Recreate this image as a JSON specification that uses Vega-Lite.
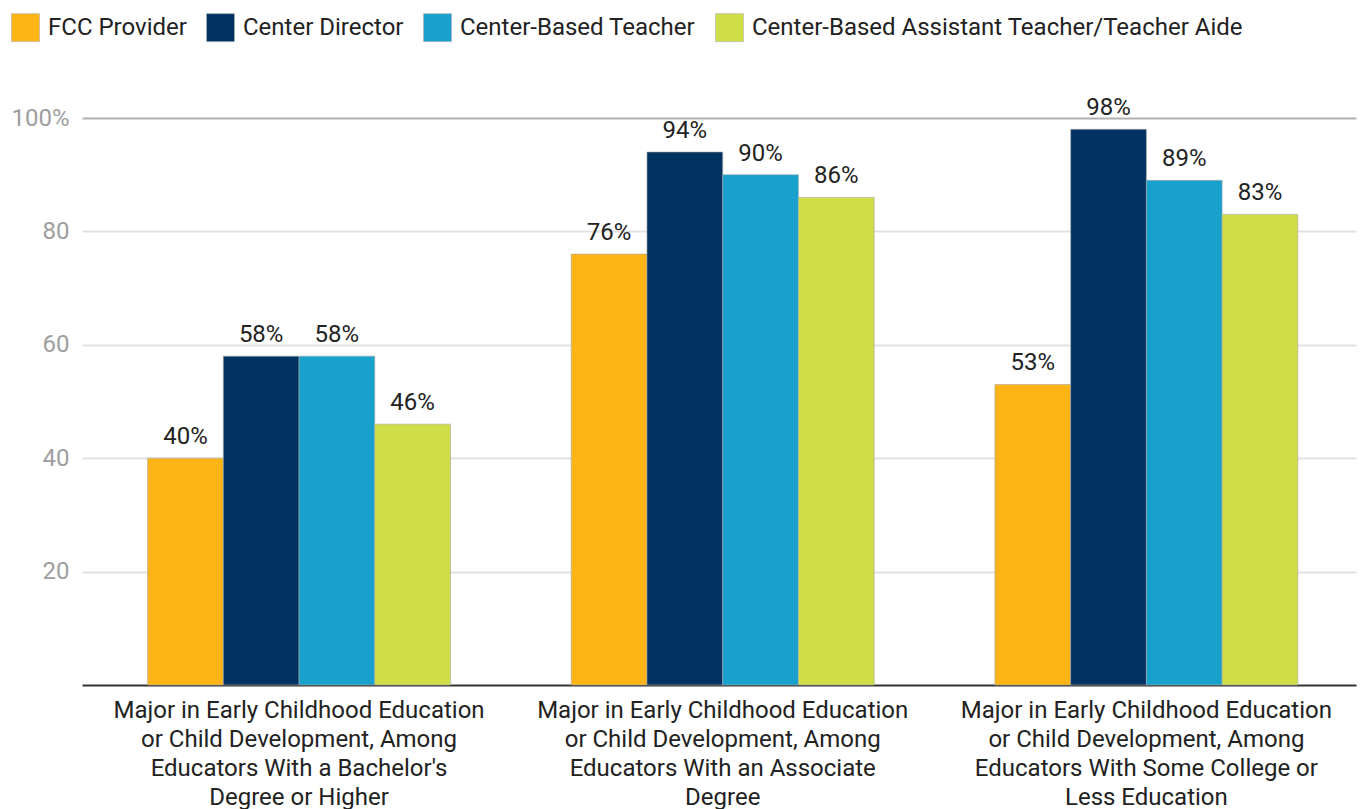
{
  "$schema": "https://vega.github.io/schema/vega-lite/v6.json",
  "width": 1274,
  "height": 567,
  "autosize": "none",
  "padding": {"left": 82, "top": 118, "right": 5, "bottom": 124},
  "background": "#ffffff",
  "config": {
    "font": "Roboto",
    "view": {"stroke": null}
  },
  "data": {
    "values": [
      {"group": "Major in Early Childhood Education|or Child Development, Among|Educators With a Bachelor's|Degree or Higher", "role": "FCC Provider", "value": 0.40},
      {"group": "Major in Early Childhood Education|or Child Development, Among|Educators With a Bachelor's|Degree or Higher", "role": "Center Director", "value": 0.58},
      {"group": "Major in Early Childhood Education|or Child Development, Among|Educators With a Bachelor's|Degree or Higher", "role": "Center-Based Teacher", "value": 0.58},
      {"group": "Major in Early Childhood Education|or Child Development, Among|Educators With a Bachelor's|Degree or Higher", "role": "Center-Based Assistant Teacher/Teacher Aide", "value": 0.46},
      {"group": "Major in Early Childhood Education|or Child Development, Among|Educators With an Associate|Degree", "role": "FCC Provider", "value": 0.76},
      {"group": "Major in Early Childhood Education|or Child Development, Among|Educators With an Associate|Degree", "role": "Center Director", "value": 0.94},
      {"group": "Major in Early Childhood Education|or Child Development, Among|Educators With an Associate|Degree", "role": "Center-Based Teacher", "value": 0.90},
      {"group": "Major in Early Childhood Education|or Child Development, Among|Educators With an Associate|Degree", "role": "Center-Based Assistant Teacher/Teacher Aide", "value": 0.86},
      {"group": "Major in Early Childhood Education|or Child Development, Among|Educators With Some College or|Less Education", "role": "FCC Provider", "value": 0.53},
      {"group": "Major in Early Childhood Education|or Child Development, Among|Educators With Some College or|Less Education", "role": "Center Director", "value": 0.98},
      {"group": "Major in Early Childhood Education|or Child Development, Among|Educators With Some College or|Less Education", "role": "Center-Based Teacher", "value": 0.89},
      {"group": "Major in Early Childhood Education|or Child Development, Among|Educators With Some College or|Less Education", "role": "Center-Based Assistant Teacher/Teacher Aide", "value": 0.83}
    ]
  },
  "encoding": {
    "x": {
      "field": "group",
      "type": "nominal",
      "sort": null,
      "scale": {"paddingInner": 0.285, "paddingOuter": 0.146, "align": 0.53},
      "axis": {
        "title": null,
        "labelAngle": 0,
        "labelExpr": "split(datum.label, '|')",
        "labelFont": "Roboto",
        "labelFontSize": 24,
        "labelLineHeight": 29,
        "labelColor": "#222222",
        "labelPadding": 13,
        "labelLimit": 1000,
        "ticks": false,
        "domainColor": "#333333",
        "domainWidth": 2
      }
    },
    "xOffset": {
      "field": "role",
      "type": "nominal",
      "scale": {
        "domain": ["FCC Provider", "Center Director", "Center-Based Teacher", "Center-Based Assistant Teacher/Teacher Aide"],
        "paddingInner": 0,
        "paddingOuter": 0
      }
    },
    "y": {
      "field": "value",
      "type": "quantitative",
      "scale": {"domain": [0, 1], "nice": false},
      "axis": {
        "title": null,
        "values": [0.2, 0.4, 0.6, 0.8, 1.0],
        "labelExpr": "datum.value >= 0.999 ? '100%' : format(datum.value * 100, 'd')",
        "labelFont": "Roboto",
        "labelFontSize": 24,
        "labelColor": "#9e9e9e",
        "labelPadding": 13,
        "ticks": false,
        "domain": false,
        "gridColor": {"expr": "datum.value >= 0.999 ? '#b0b0b0' : '#e2e2e2'"},
        "gridWidth": 2
      }
    }
  },
  "layer": [
    {
      "mark": {"type": "bar", "stroke": "#a8a8a8", "strokeWidth": 0.6, "clip": false},
      "encoding": {
        "color": {
          "field": "role",
          "type": "nominal",
          "scale": {
            "domain": ["FCC Provider", "Center Director", "Center-Based Teacher", "Center-Based Assistant Teacher/Teacher Aide"],
            "range": ["#FDB515", "#003262", "#18A1CD", "#CFDE46"]
          },
          "legend": {
            "title": null,
            "orient": "none",
            "direction": "horizontal",
            "legendX": -71,
            "legendY": -105,
            "padding": 0,
            "symbolType": "square",
            "symbolSize": 784,
            "symbolStrokeColor": "#b0b0b0",
            "symbolStrokeWidth": 0.6,
            "symbolOpacity": 1,
            "labelFont": "Roboto",
            "labelFontSize": 24,
            "labelColor": "#222222",
            "labelOffset": 8,
            "labelLimit": 800,
            "columnPadding": 18
          }
        }
      }
    },
    {
      "mark": {"type": "text", "baseline": "alphabetic", "dy": -14, "fontSize": 24, "font": "Roboto", "color": "#222222"},
      "encoding": {
        "text": {"field": "value", "type": "quantitative", "format": ".0%"}
      }
    }
  ]
}
